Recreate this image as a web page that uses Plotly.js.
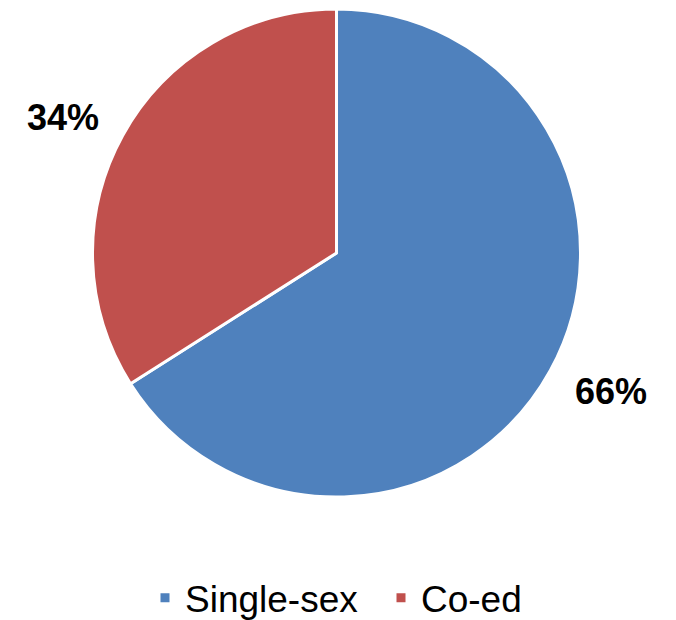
<!DOCTYPE html>
<html>
<head>
<meta charset="utf-8">
<script src="https://cdn.plot.ly/plotly-3.0.1.min.js"></script>
<style>html,body{margin:0;padding:0;background:#fff;}#chart{width:676px;height:620px;}</style>
</head>
<body>
<div id="chart"></div>
<script>
const categories = ["Single-sex", "Co-ed"];
const shares = [66, 34];
const colors = ["#4F81BD", "#C0504D"];
const labelPos = [[611/676, 229/620], [63/676, 502/620]];

const R = 244, cx = 336.5, cyTop = 253;
const trace = {
  type: "pie",
  labels: categories,
  values: shares,
  sort: false,
  direction: "clockwise",
  rotation: 0,
  marker: { colors: colors, line: { color: "#ffffff", width: 3 } },
  textinfo: "none",
  textposition: "none",
  hoverinfo: "label+percent",
  domain: { x: [(cx - R)/676, (cx + R)/676], y: [(620 - cyTop - R)/620, (620 - cyTop + R)/620] },
  automargin: false
};

const annotations = shares.map((v, i) => ({
  xref: "paper", yref: "paper",
  x: labelPos[i][0], y: labelPos[i][1],
  xanchor: "center", yanchor: "middle",
  showarrow: false,
  text: "<b>" + v + "%</b>",
  font: { family: "Liberation Sans, Arial, sans-serif", size: 36, color: "#000000" }
}));

const layout = {
  width: 676, height: 620,
  margin: { l: 0, r: 0, t: 0, b: 0, autoexpand: false },
  paper_bgcolor: "#ffffff",
  font: { family: "Liberation Sans, Arial, sans-serif", color: "#000000" },
  showlegend: true,
  annotations: annotations,
  legend: {
    orientation: "h",
    x: 145/676, xanchor: "left",
    y: 0.035, yanchor: "middle",
    font: { size: 37, color: "#000000" },
    itemwidth: 30,
    entrywidth: 191,
    entrywidthmode: "pixels"
  }
};

Plotly.newPlot("chart", [trace], layout, { staticPlot: true });
</script>
</body>
</html>
